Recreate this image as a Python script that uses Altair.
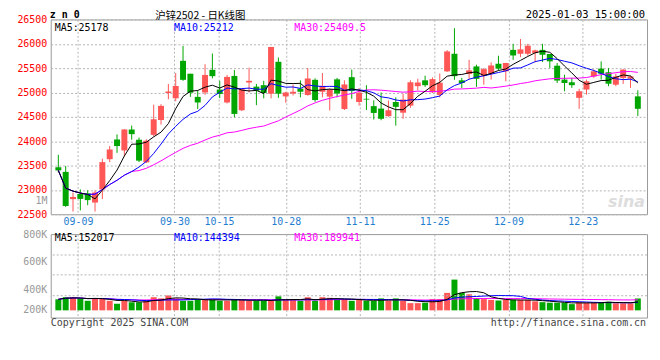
import json
import altair as alt
import pandas as pd

# ---------------- data ----------------
dates = ["09-04", "09-05", "09-06", "09-09", "09-10", "09-11", "09-12", "09-13", "09-18", "09-19",
         "09-20", "09-23", "09-24", "09-25", "09-26", "09-27", "09-30", "10-08", "10-09", "10-10",
         "10-11", "10-14", "10-15", "10-16", "10-17", "10-18", "10-21", "10-22", "10-23", "10-24",
         "10-25", "10-28", "10-29", "10-30", "10-31", "11-01", "11-04", "11-05", "11-06", "11-07",
         "11-08", "11-11", "11-12", "11-13", "11-14", "11-15", "11-18", "11-19", "11-20", "11-21",
         "11-22", "11-25", "11-26", "11-27", "11-28", "11-29", "12-02", "12-03", "12-04", "12-05",
         "12-06", "12-09", "12-10", "12-11", "12-12", "12-13", "12-16", "12-17", "12-18", "12-19",
         "12-20", "12-23", "12-24", "12-25", "12-26", "12-27", "12-30", "12-31", "01-02", "01-03"]

opens = [23465, 23370, 22810, 22915, 22930, 22740, 23010, 23630, 24035, 23810,
         24240, 24030, 23565, 24130, 24435, 24990, 24880, 25650, 25385, 24910,
         25000, 25465, 25060, 24795, 25340, 24635, 25205, 25120, 25150, 24975,
         25630, 24920, 24980, 25080, 24950, 25260, 25015, 24915, 25270, 24660,
         25315, 24805, 24870, 24720, 24670, 24515, 24805, 24585, 24730, 25130,
         25250, 25005, 24950, 25434, 25795, 25250, 25380, 25535, 25345, 25385,
         25590, 25435, 25875, 25795, 25795, 25810, 25875, 25790, 25550, 25265,
         25210, 24890, 25060, 25330, 25490, 25415, 25160, 25300, 25285, 24920]
closes = [23400, 22670, 22855, 22815, 22790, 22945, 23570, 23830, 23900, 24240,
          24145, 23600, 24010, 24450, 24725, 25020, 25135, 25260, 24995, 24795,
          25360, 25335, 24970, 25320, 24560, 25065, 25240, 25035, 24990, 25935,
          24975, 25000, 25015, 25015, 25285, 24845, 25135, 25060, 24980, 25165,
          25030, 24995, 24855, 24580, 24460, 24635, 24705, 24855, 25210, 25205,
          25150, 25275, 25200, 25843, 25335, 25195, 25455, 25280, 25480, 25555,
          25490, 25605, 25760, 25885, 25960, 25865, 25775, 25640, 25245, 25195,
          25150, 25025, 25230, 25435, 25385, 25180, 25330, 25470, 25330, 24665]
highs = [23720, 23490, 22945, 23010, 22990, 22990, 23640, 23900, 24140, 24250,
         24320, 24075, 24040, 24750, 24760, 25175, 25400, 25955, 25385, 25040,
         25580, 25800, 25240, 25360, 25460, 25080, 25510, 25175, 25240, 25935,
         25720, 25015, 25160, 25250, 25500, 25290, 25400, 25085, 25300, 25250,
         25470, 25090, 25150, 24840, 25000, 24835, 24900, 24975, 25250, 25280,
         25345, 25310, 25390, 25870, 26320, 25300, 25670, 25570, 25500, 25620,
         25755, 25610, 26000, 26100, 26000, 25880, 26000, 25790, 25605, 25365,
         25300, 25075, 25265, 25470, 25640, 25500, 25385, 25480, 25345, 25045]
lows = [23357, 22650, 22555, 22580, 22685, 22555, 22810, 23570, 23760, 23690,
        24030, 23570, 23550, 24095, 24340, 24860, 24820, 25240, 24910, 24660,
        24950, 25290, 24885, 24775, 24490, 24620, 25000, 24740, 24880, 24880,
        24890, 24790, 24940, 24900, 24935, 24810, 24900, 24630, 24900, 24640,
        24870, 24730, 24640, 24445, 24430, 24500, 24320, 24460, 24685, 25045,
        25115, 24990, 24900, 25420, 25260, 25090, 25280, 25115, 25160, 25265,
        25455, 25230, 25670, 25725, 25755, 25620, 25625, 25500, 25195, 25025,
        25095, 24665, 24955, 25300, 25265, 25130, 25130, 25175, 25095, 24515]
volumes = [201, 239, 239, 217, 174, 217, 217, 174, 120, 174,
           147, 147, 190, 239, 217, 272, 217, 174, 174, 201,
           201, 201, 174, 174, 201, 201, 174, 174, 174, 174,
           255, 190, 190, 174, 239, 174, 239, 228, 190, 201,
           174, 190, 174, 174, 217, 174, 217, 174, 131, 131,
           139, 205, 205, 318, 560, 318, 292, 225, 205, 190,
           179, 190, 190, 190, 190, 164, 149, 139, 139, 139,
           113, 149, 139, 139, 149, 158, 129, 129, 129, 216]  # thousands

label_dates = ["09-09", "09-30", "10-15", "10-28", "11-11", "11-25", "12-09", "12-23"]
price_ticks = [22500, 23000, 23500, 24000, 24500, 25000, 25500, 26000, 26500]
vol_tick_labels = ["200K", "400K", "600K", "800K"]
vol_tick_values = [12700, 375000, 890000, 1388000]
vol_grid_values = [266000, 646000, 1008000]

# ---------------- styling / layout ----------------
RED = "#ff5656"
GREEN = "#00a600"
MONO = "DejaVu Sans Mono"
CJK = "Noto Sans CJK SC"
GRID = "#b4b4b4"
W, H_MAIN, H_VOL = 600, 196, 84
TOP = -9.2
STEP = 7.506       # candle pitch (px)
FIRST = 2.7        # first candle centre from the plot's left edge (px)
GRID_STEP = 7.595  # pitch used by the date gridlines (px)

df = pd.DataFrame({
    "i": list(range(len(dates))),
    "date": dates,
    "open": opens, "close": closes, "high": highs, "low": lows,
    "vol": [v * 1000 for v in volumes],
})
df["dir"] = ["up" if c >= o else "down" for o, c in zip(opens, closes)]

x_scale = alt.Scale(domain=[-FIRST / STEP, (W - FIRST) / STEP], nice=False, zero=False)
tick_vals = [round((GRID_STEP * dates.index(d) - FIRST) / STEP, 4) for d in label_dates]
label_expr = (json.dumps(label_dates).replace('"', "'")
              + "[indexof(" + json.dumps(tick_vals) + ", datum.value)]")
vol_label_expr = (json.dumps(vol_tick_labels).replace('"', "'")
                  + "[indexof(" + json.dumps(vol_tick_values) + ", datum.value)]")

color = alt.Color("dir:N", scale=alt.Scale(domain=["up", "down"], range=[RED, GREEN]), legend=None)


def text(t, x, y, col="black", size=10, align="left", baseline="middle", font=MONO,
         weight="normal", style="normal"):
    return alt.Chart(pd.DataFrame({"t": [t]})).mark_text(
        align=align, baseline=baseline, color=col, fontSize=size, font=font,
        fontWeight=weight, fontStyle=style
    ).encode(x=alt.value(x), y=alt.value(y), text="t:N")


x_axis_main = alt.Axis(values=tick_vals, tickCount=len(tick_vals), labelExpr=label_expr, grid=True,
                       gridDash=[2, 2], gridColor=GRID, ticks=False, tickSize=0, domain=False,
                       labelColor="#1f7ed0", labelFont=MONO, labelFontSize=10, labelPadding=2,
                       labelFlush=False, labelOverlap=False, title=None)
y_axis_main = alt.Axis(values=price_ticks, tickCount=len(price_ticks), format="d", grid=True,
                       gridDash=[2, 2], gridColor=GRID, ticks=False, tickSize=0, domain=False,
                       labelColor="#ff0000", labelFont=MONO, labelFontSize=10, labelPadding=4,
                       labelOverlap=False, labelBound=False, labelFlush=False, title=None)

base = alt.Chart(df)
wicks = base.mark_rule(strokeWidth=1).encode(
    x=alt.X("i:Q", scale=x_scale, axis=x_axis_main),
    y=alt.Y("low:Q", scale=alt.Scale(domain=[22500, 26500], nice=False, zero=False), axis=y_axis_main),
    y2="high:Q",
    color=color,
)
bodies = base.mark_bar(size=6).encode(x="i:Q", y="open:Q", y2="close:Q", color=color)


def ma_line(field, k, col, key):
    return base.transform_window(
        **{key: f"mean({field})"}, frame=[-(k - 1), 0], sort=[alt.SortField("i")]
    ).mark_line(color=col, strokeWidth=1, clip=True).encode(x="i:Q", y=f"{key}:Q")


main = alt.layer(
    wicks, bodies,
    ma_line("close", 30, "#ff00ff", "ma30"),
    ma_line("close", 10, "#0000ff", "ma10"),
    ma_line("close", 5, "#000000", "ma5"),
    text("z n 0", -1, TOP, size=10, baseline="top", weight="bold"),
    text("沪锌2502 - 日K线图", 150.5, TOP + 0.6, size=10.5, align="center", baseline="top", font=CJK),
    text("2025-01-03 15:00:00", 598, TOP, size=10.5, align="right", baseline="top"),
    text("MA5:25178", 4, 8.2, col="#000000"),
    text("MA10:25212", 124, 8.2, col="#0000ff"),
    text("MA30:25409.5", 245, 8.2, col="#ff00ff"),
    text("1M", -3.3, 182.3, col="#999999", align="right"),
    text("sina", 598, 192, col="#dddddd", size=16, align="right", baseline="bottom",
         font="DejaVu Sans", weight="bold", style="italic"),
).properties(width=W, height=H_MAIN)

# ---------------- volume panel ----------------
x_axis_vol = alt.Axis(values=tick_vals, tickCount=len(tick_vals), grid=True, gridDash=[2, 2],
                      gridColor=GRID, ticks=False, tickSize=0, domain=False, labels=False, title=None)
y_axis_vol = alt.Axis(values=vol_tick_values, tickCount=len(vol_tick_values),
                      labelExpr=vol_label_expr, grid=False, ticks=False, tickSize=0, domain=False,
                      labelColor="#999999", labelFont=MONO, labelFontSize=10, labelPadding=4,
                      labelOverlap=False, labelBound=False, labelFlush=False, title=None)
vol_scale = alt.Scale(domain=[-132000, 1388000], nice=False, zero=False)

vol_bars = base.mark_bar(size=6).encode(
    x=alt.X("i:Q", scale=x_scale, axis=x_axis_vol),
    y=alt.Y("vol:Q", scale=vol_scale, axis=y_axis_vol),
    color=color,
)
vol_grid = alt.Chart(pd.DataFrame({"g": vol_grid_values})).mark_rule(
    color=GRID, strokeDash=[2, 2], strokeWidth=1).encode(y=alt.Y("g:Q"))

vol = alt.layer(
    vol_bars, vol_grid,
    ma_line("vol", 30, "#ff00ff", "v30"),
    ma_line("vol", 10, "#0000ff", "v10"),
    ma_line("vol", 5, "#000000", "v5"),
    text("MA5:152017", 4, 4.0, col="#000000"),
    text("MA10:144394", 124, 4.0, col="#0000ff"),
    text("MA30:189941", 245, 4.0, col="#ff00ff"),
    text("Copyright 2025 SINA.COM", 0, 89.8, col="#444444"),
    text("http://finance.sina.com.cn", 599, 89.8, col="#444444", align="right"),
).properties(width=W, height=H_VOL)

chart = alt.vconcat(main, vol, spacing=20, bounds="flush").properties(
    padding={"left": 8, "top": 0.5, "right": 4, "bottom": 4}
).configure_view(stroke="#999999", strokeWidth=1)

chart.save("out.html", embed_options={"renderer": "svg", "actions": False})
